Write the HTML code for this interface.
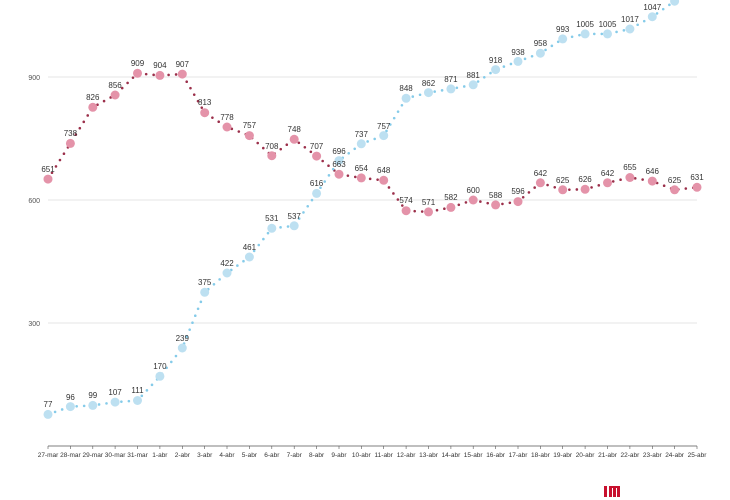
<!DOCTYPE html>
<html><head><meta charset="utf-8"><style>
html,body{margin:0;padding:0;background:#fff;}
svg{display:block;font-family:"Liberation Sans",sans-serif;}
.t{font-size:8px;fill:#333;text-anchor:middle;}
.y{font-size:7px;fill:#555;text-anchor:end;}
.x{font-size:6.5px;fill:#333;text-anchor:middle;}
.r circle{fill:#e493a9;}
.b circle{fill:#bde0f1;}
</style></head><body>
<svg width="730" height="500" viewBox="0 0 730 500">
<g stroke="#e6e6e6" stroke-width="1">
<line x1="48" y1="77" x2="697" y2="77"/><line x1="48" y1="200" x2="697" y2="200"/><line x1="48" y1="323" x2="697" y2="323"/>
</g>
<text class="y" x="40" y="80">900</text><text class="y" x="40" y="203">600</text><text class="y" x="40" y="326">300</text>
<line x1="48" y1="446" x2="697" y2="446" stroke="#555" stroke-width="0.8"/>
<g stroke="#555" stroke-width="0.6">
<line x1="48" y1="446" x2="48" y2="449"/><line x1="70.4" y1="446" x2="70.4" y2="449"/><line x1="92.8" y1="446" x2="92.8" y2="449"/><line x1="115.1" y1="446" x2="115.1" y2="449"/><line x1="137.5" y1="446" x2="137.5" y2="449"/><line x1="159.9" y1="446" x2="159.9" y2="449"/><line x1="182.3" y1="446" x2="182.3" y2="449"/><line x1="204.7" y1="446" x2="204.7" y2="449"/><line x1="227" y1="446" x2="227" y2="449"/><line x1="249.4" y1="446" x2="249.4" y2="449"/><line x1="271.8" y1="446" x2="271.8" y2="449"/><line x1="294.2" y1="446" x2="294.2" y2="449"/><line x1="316.6" y1="446" x2="316.6" y2="449"/><line x1="339" y1="446" x2="339" y2="449"/><line x1="361.3" y1="446" x2="361.3" y2="449"/><line x1="383.7" y1="446" x2="383.7" y2="449"/><line x1="406.1" y1="446" x2="406.1" y2="449"/><line x1="428.5" y1="446" x2="428.5" y2="449"/><line x1="450.9" y1="446" x2="450.9" y2="449"/><line x1="473.2" y1="446" x2="473.2" y2="449"/><line x1="495.6" y1="446" x2="495.6" y2="449"/><line x1="518" y1="446" x2="518" y2="449"/><line x1="540.4" y1="446" x2="540.4" y2="449"/><line x1="562.7" y1="446" x2="562.7" y2="449"/><line x1="585.1" y1="446" x2="585.1" y2="449"/><line x1="607.5" y1="446" x2="607.5" y2="449"/><line x1="629.9" y1="446" x2="629.9" y2="449"/><line x1="652.3" y1="446" x2="652.3" y2="449"/><line x1="674.6" y1="446" x2="674.6" y2="449"/><line x1="697" y1="446" x2="697" y2="449"/>
</g>
<g class="x">
<text x="48" y="457">27-mar</text><text x="70.4" y="457">28-mar</text><text x="92.8" y="457">29-mar</text><text x="115.1" y="457">30-mar</text><text x="137.5" y="457">31-mar</text><text x="159.9" y="457">1-abr</text><text x="182.3" y="457">2-abr</text><text x="204.7" y="457">3-abr</text><text x="227" y="457">4-abr</text><text x="249.4" y="457">5-abr</text><text x="271.8" y="457">6-abr</text><text x="294.2" y="457">7-abr</text><text x="316.6" y="457">8-abr</text><text x="339" y="457">9-abr</text><text x="361.3" y="457">10-abr</text><text x="383.7" y="457">11-abr</text><text x="406.1" y="457">12-abr</text><text x="428.5" y="457">13-abr</text><text x="450.9" y="457">14-abr</text><text x="473.2" y="457">15-abr</text><text x="495.6" y="457">16-abr</text><text x="518" y="457">17-abr</text><text x="540.4" y="457">18-abr</text><text x="562.7" y="457">19-abr</text><text x="585.1" y="457">20-abr</text><text x="607.5" y="457">21-abr</text><text x="629.9" y="457">22-abr</text><text x="652.3" y="457">23-abr</text><text x="674.6" y="457">24-abr</text><text x="697" y="457">25-abr</text>
</g>
<polyline fill="none" stroke="#9b2f4a" stroke-width="2.6" stroke-linecap="round" stroke-dasharray="0 7.5" points="48,179.1 70.4,143.4 92.8,107.3 115.1,95 137.5,73.3 159.9,75.4 182.3,74.1 204.7,112.7 227,127 249.4,135.6 271.8,155.7 294.2,139.3 316.6,156.1 339,174.2 361.3,177.9 383.7,180.3 406.1,210.7 428.5,211.9 450.9,207.4 473.2,200 495.6,204.9 518,201.6 540.4,182.8 562.7,189.8 585.1,189.3 607.5,182.8 629.9,177.5 652.3,181.1 674.6,189.8 697,187.3"/>
<polyline fill="none" stroke="#85cbe9" stroke-width="2.6" stroke-linecap="round" stroke-dasharray="0 7.5" points="48,414.4 70.4,406.6 92.8,405.4 115.1,402.1 137.5,400.5 159.9,376.3 182.3,348 204.7,292.3 227,273 249.4,257 271.8,228.3 294.2,225.8 316.6,193.4 339,160.6 361.3,143.8 383.7,135.6 406.1,98.3 428.5,92.6 450.9,88.9 473.2,84.8 495.6,69.6 518,61.4 540.4,53.2 562.7,38.9 585.1,33.9 607.5,33.9 629.9,29 652.3,16.7 674.6,1.2 697,-9"/>
<g class="r">
<circle cx="48" cy="179.1" r="4.5"/><circle cx="70.4" cy="143.4" r="4.5"/><circle cx="92.8" cy="107.3" r="4.5"/><circle cx="115.1" cy="95" r="4.5"/><circle cx="137.5" cy="73.3" r="4.5"/><circle cx="159.9" cy="75.4" r="4.5"/><circle cx="182.3" cy="74.1" r="4.5"/><circle cx="204.7" cy="112.7" r="4.5"/><circle cx="227" cy="127" r="4.5"/><circle cx="249.4" cy="135.6" r="4.5"/><circle cx="271.8" cy="155.7" r="4.5"/><circle cx="294.2" cy="139.3" r="4.5"/><circle cx="316.6" cy="156.1" r="4.5"/><circle cx="339" cy="174.2" r="4.5"/><circle cx="361.3" cy="177.9" r="4.5"/><circle cx="383.7" cy="180.3" r="4.5"/><circle cx="406.1" cy="210.7" r="4.5"/><circle cx="428.5" cy="211.9" r="4.5"/><circle cx="450.9" cy="207.4" r="4.5"/><circle cx="473.2" cy="200" r="4.5"/><circle cx="495.6" cy="204.9" r="4.5"/><circle cx="518" cy="201.6" r="4.5"/><circle cx="540.4" cy="182.8" r="4.5"/><circle cx="562.7" cy="189.8" r="4.5"/><circle cx="585.1" cy="189.3" r="4.5"/><circle cx="607.5" cy="182.8" r="4.5"/><circle cx="629.9" cy="177.5" r="4.5"/><circle cx="652.3" cy="181.1" r="4.5"/><circle cx="674.6" cy="189.8" r="4.5"/><circle cx="697" cy="187.3" r="4.5"/>
</g>
<g class="b">
<circle cx="48" cy="414.4" r="4.5"/><circle cx="70.4" cy="406.6" r="4.5"/><circle cx="92.8" cy="405.4" r="4.5"/><circle cx="115.1" cy="402.1" r="4.5"/><circle cx="137.5" cy="400.5" r="4.5"/><circle cx="159.9" cy="376.3" r="4.5"/><circle cx="182.3" cy="348" r="4.5"/><circle cx="204.7" cy="292.3" r="4.5"/><circle cx="227" cy="273" r="4.5"/><circle cx="249.4" cy="257" r="4.5"/><circle cx="271.8" cy="228.3" r="4.5"/><circle cx="294.2" cy="225.8" r="4.5"/><circle cx="316.6" cy="193.4" r="4.5"/><circle cx="339" cy="160.6" r="4.5"/><circle cx="361.3" cy="143.8" r="4.5"/><circle cx="383.7" cy="135.6" r="4.5"/><circle cx="406.1" cy="98.3" r="4.5"/><circle cx="428.5" cy="92.6" r="4.5"/><circle cx="450.9" cy="88.9" r="4.5"/><circle cx="473.2" cy="84.8" r="4.5"/><circle cx="495.6" cy="69.6" r="4.5"/><circle cx="518" cy="61.4" r="4.5"/><circle cx="540.4" cy="53.2" r="4.5"/><circle cx="562.7" cy="38.9" r="4.5"/><circle cx="585.1" cy="33.9" r="4.5"/><circle cx="607.5" cy="33.9" r="4.5"/><circle cx="629.9" cy="29" r="4.5"/><circle cx="652.3" cy="16.7" r="4.5"/><circle cx="674.6" cy="1.2" r="4.5"/>
</g>
<g class="t">
<text x="48" y="172">651</text><text x="70.4" y="136">738</text><text x="92.8" y="100">826</text><text x="115.1" y="88">856</text><text x="137.5" y="66">909</text><text x="159.9" y="68">904</text><text x="182.3" y="67">907</text><text x="204.7" y="105">813</text><text x="227" y="120">778</text><text x="249.4" y="128">757</text><text x="271.8" y="149">708</text><text x="294.2" y="132">748</text><text x="316.6" y="149">707</text><text x="339" y="167">663</text><text x="361.3" y="171">654</text><text x="383.7" y="173">648</text><text x="406.1" y="203">574</text><text x="428.5" y="205">571</text><text x="450.9" y="200">582</text><text x="473.2" y="193">600</text><text x="495.6" y="198">588</text><text x="518" y="194">596</text><text x="540.4" y="176">642</text><text x="562.7" y="183">625</text><text x="585.1" y="182">626</text><text x="607.5" y="176">642</text><text x="629.9" y="170">655</text><text x="652.3" y="174">646</text><text x="674.6" y="183">625</text><text x="697" y="180">631</text>
<text x="48" y="407">77</text><text x="70.4" y="400">96</text><text x="92.8" y="398">99</text><text x="115.1" y="395">107</text><text x="137.5" y="393">111</text><text x="159.9" y="369">170</text><text x="182.3" y="341">239</text><text x="204.7" y="285">375</text><text x="227" y="266">422</text><text x="249.4" y="250">461</text><text x="271.8" y="221">531</text><text x="294.2" y="219">537</text><text x="316.6" y="186">616</text><text x="339" y="154">696</text><text x="361.3" y="137">737</text><text x="383.7" y="129">757</text><text x="406.1" y="91">848</text><text x="428.5" y="86">862</text><text x="450.9" y="82">871</text><text x="473.2" y="78">881</text><text x="495.6" y="63">918</text><text x="518" y="55">938</text><text x="540.4" y="46">958</text><text x="562.7" y="32">993</text><text x="585.1" y="27">1005</text><text x="607.5" y="27">1005</text><text x="629.9" y="22">1017</text><text x="652.3" y="10">1047</text>
</g>
<g fill="#c8102e">
<rect x="604" y="486" width="3" height="11"/><rect x="609" y="486" width="3" height="11"/><rect x="613" y="486" width="3" height="11"/><rect x="617" y="486" width="3" height="11"/><rect x="609" y="486" width="8" height="2"/>
</g>
</svg>
</body></html>
